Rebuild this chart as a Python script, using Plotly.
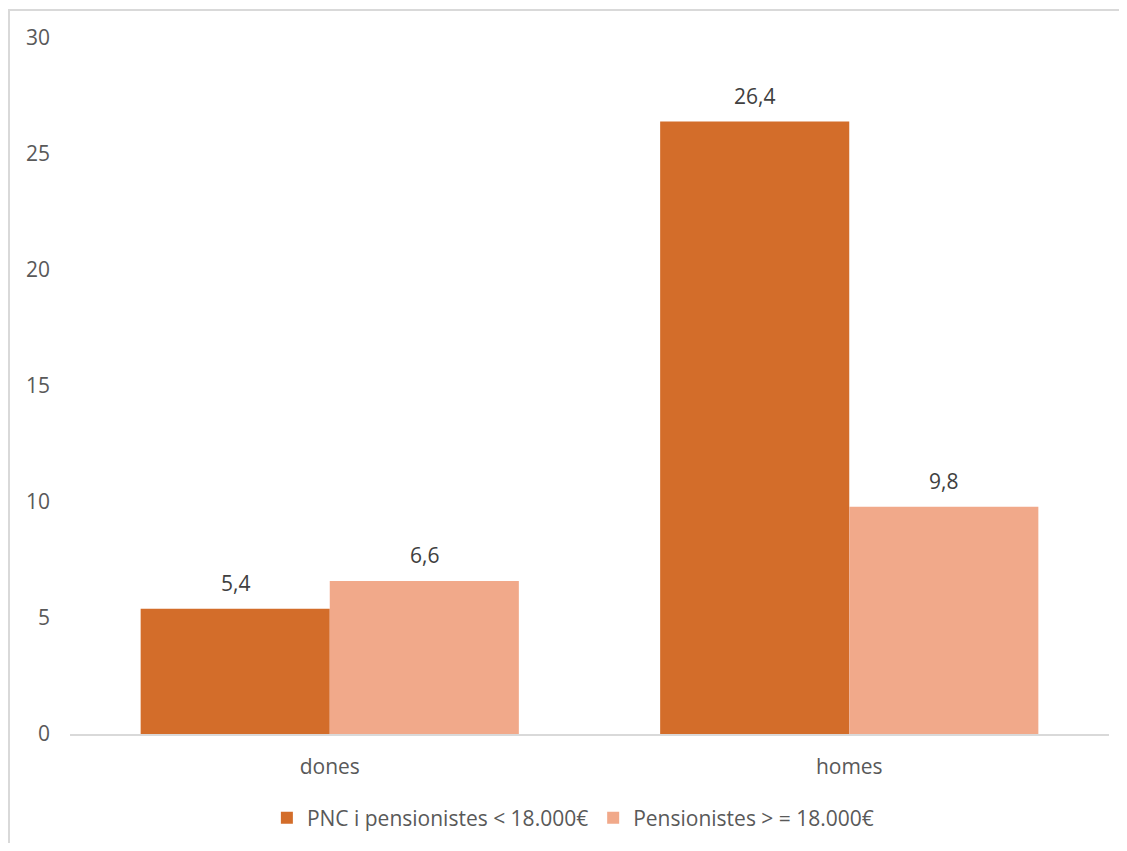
import plotly.graph_objects as go

# data
categories = ["dones", "homes"]
series_names = ["PNC i pensionistes < 18.000€", "Pensionistes > = 18.000€"]
pnc_values = [5.4, 26.4]
pension_values = [6.6, 9.8]
y_ticks = [0, 5, 10, 15, 20, 25, 30]

COLORS = ["#D36D2A", "#F1A98A"]
FONT = "Open Sans, Liberation Sans, sans-serif"
BARGAP = 0.272


def fmt(v):
    # decimal comma, as in the original
    return f"{v:.1f}".replace(".", ",")


fig = go.Figure()
all_series = [pnc_values, pension_values]
for name, vals, col in zip(series_names, all_series, COLORS):
    fig.add_trace(go.Bar(
        x=categories, y=vals, name=name,
        marker=dict(color=col, line=dict(width=0)),
    ))

# data labels, placed above the bars of each group
bar_w = (1 - BARGAP) / len(all_series)
annotations = []
for s, vals in enumerate(all_series):
    off = (s - (len(all_series) - 1) / 2) * bar_w
    for i, v in enumerate(vals):
        annotations.append(dict(
            x=i + off, y=v, xref="x", yref="y", text=fmt(v),
            showarrow=False, yanchor="bottom", yshift=10,
            font=dict(size=21, color="#404040", family=FONT),
        ))

# page body has an 8px margin, so keep the figure inside the window (no scrollbars)
fig.update_layout(
    width=1111, height=835,
    margin=dict(l=62, r=10, t=30, b=109, autoexpand=False),
    paper_bgcolor="white", plot_bgcolor="white",
    barmode="group", bargap=BARGAP, bargroupgap=0,
    font=dict(family=FONT, color="#595959", size=20),
    showlegend=True,
    legend=dict(orientation="h", x=0.484, xanchor="center", y=-0.1207, yanchor="middle",
                font=dict(size=21, color="#595959"), itemwidth=30, traceorder="normal"),
    xaxis=dict(showline=True, linecolor="#D9D9D9", linewidth=2, ticks="",
               ticklabelstandoff=13, automargin=False,
               tickfont=dict(size=21, color="#595959"), showgrid=False),
    yaxis=dict(range=[0, 30], tickvals=y_ticks, showgrid=False, zeroline=False,
               showline=False, ticks="", ticklabelstandoff=19, automargin=False,
               tickfont=dict(size=21, color="#595959")),
    annotations=annotations,
    # chart frame (its right and bottom edges run off the page)
    shapes=[dict(type="rect", xref="paper", yref="paper",
                 x0=-0.0587, x1=1.2, y0=-0.6, y1=1.0402,
                 line=dict(color="#D9D9D9", width=2), layer="below")],
)

fig.write_html("out.html")
